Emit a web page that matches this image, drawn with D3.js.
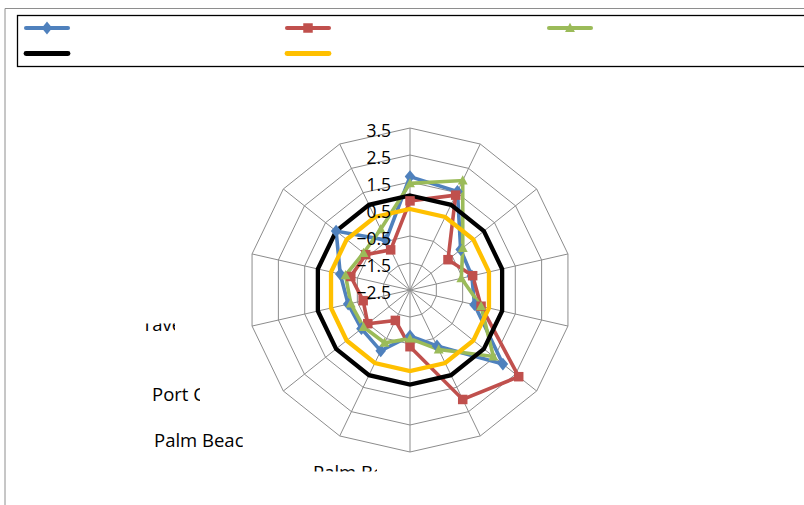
<!DOCTYPE html>
<html>
<head>
<meta charset="utf-8">
<script src="https://cdn.jsdelivr.net/npm/d3@7/dist/d3.min.js"></script>
<style>
  html, body { margin: 0; padding: 0; background: #fff; }
  svg { display: block; }
  text { font-family: "Open Sans", "Liberation Sans", sans-serif; fill: #000; }
</style>
</head>
<body>
<svg id="chart" width="804" height="505"></svg>
<script>
// 14 stations around the radar, clockwise from the top
const categories = d3.range(1, 15).map(String);

// radial axis tick labels
const tickValues = [-2.5, -1.5, -0.5, 0.5, 1.5, 2.5, 3.5];

// series values per station
const seriesBlue   = [1.7, 1.55, -0.1, -0.15, -0.05, 1.9, -0.2, -0.8, 0.0, -0.2, -0.15, 0.15, 1.0, -0.45];
const seriesRed    = [0.8, 1.4, -0.7, -0.12, 0.2, 2.65, 2.0, -0.4, -1.25, -0.5, -0.72, -0.25, -0.4, -0.85];
const seriesGreen  = [1.45, 2.0, 0.0, -0.55, 0.2, 1.45, -0.05, -0.7, -0.33, -0.3, -0.25, -0.05, -0.3, 0.0];
const seriesBlack  = [1, 1, 1, 1, 1, 1, 1, 1, 1, 1, 1, 1, 1, 1];
const seriesYellow = [0.5, 0.5, 0.5, 0.5, 0.5, 0.5, 0.5, 0.5, 0.5, 0.5, 0.5, 0.5, 0.5, 0.5];

// station names printed beside the plot (clipped text boxes)
const sideLabels = ["Tavernier", "Port Charlotte", "Palm Beach", "Palm Beach"];

const series = [
  { values: seriesBlue,   color: "#4F81BD", marker: "diamond",  width: 3.6 },
  { values: seriesRed,    color: "#C0504D", marker: "square",   width: 3.6 },
  { values: seriesGreen,  color: "#9BBB59", marker: "triangle", width: 3.6 },
  { values: seriesBlack,  color: "#000000", marker: null,       width: 4.3 },
  { values: seriesYellow, color: "#FFC000", marker: null,       width: 4.3 }
];

const svg = d3.select("#chart");
const cx = 410, cy = 290, R = 162;

const r = d3.scaleLinear().domain([-2.5, 3.5]).range([0, R]);
const angle = d3.scaleLinear().domain([0, categories.length]).range([0, 2 * Math.PI]);

// chart area frame
svg.append("path")
  .attr("d", "M5,505 V8.5 H804")
  .attr("fill", "none").attr("stroke", "#8e8e8e").attr("stroke-width", 1);

// legend box
svg.append("rect")
  .attr("x", 17.5).attr("y", 15.5).attr("width", 800).attr("height", 51)
  .attr("fill", "#fff").attr("stroke", "#000").attr("stroke-width", 1.3);

function markerPath(type, s) {
  if (type === "diamond") return `M0,${-s * 0.58} L${s * 0.48},0 L0,${s * 0.58} L${-s * 0.48},0 Z`;
  if (type === "square") return `M${-s / 2},${-s / 2} h${s} v${s} h${-s} Z`;
  if (type === "triangle") return `M0,${-s * 0.55} L${s * 0.52},${s * 0.42} L${-s * 0.52},${s * 0.42} Z`;
  return "";
}
const markerSize = { diamond: 11, square: 9.5, triangle: 9.5 };

const legendPos = [[26, 28], [287, 28], [549, 28], [26, 53.5], [287, 53.5]];
series.forEach((s, i) => {
  const [lx, ly] = legendPos[i];
  const g = svg.append("g").attr("transform", `translate(${lx},${ly})`);
  g.append("line").attr("x1", 0).attr("x2", 42).attr("y1", 0).attr("y2", 0)
    .attr("stroke", s.color).attr("stroke-width", s.width + 0.5).attr("stroke-linecap", "round");
  if (s.marker) {
    g.append("path").attr("transform", "translate(21,0)")
      .attr("d", markerPath(s.marker, markerSize[s.marker]))
      .attr("fill", s.color);
  }
});

const plot = svg.append("g").attr("transform", `translate(${cx},${cy})`);

// grid rings
const ringLine = d3.lineRadial().angle((d, i) => angle(i)).radius(d => r(d)).curve(d3.curveLinearClosed);
tickValues.slice(1).forEach(v => {
  plot.append("path")
    .attr("d", ringLine(categories.map(() => v)))
    .attr("fill", "none").attr("stroke", "#8c8c8c").attr("stroke-width", 1);
});

// spokes
categories.forEach((c, i) => {
  const a = angle(i);
  plot.append("line")
    .attr("x1", 0).attr("y1", 0)
    .attr("x2", R * Math.sin(a)).attr("y2", -R * Math.cos(a))
    .attr("stroke", "#8c8c8c").attr("stroke-width", 1);
});

// series lines
const seriesLine = d3.lineRadial().angle((d, i) => angle(i)).radius(d => r(d)).curve(d3.curveLinearClosed);
series.forEach(s => {
  plot.append("path")
    .attr("d", seriesLine(s.values))
    .attr("fill", "none").attr("stroke", s.color)
    .attr("stroke-width", s.width).attr("stroke-linejoin", "miter");
});

// markers
series.filter(s => s.marker).forEach(s => {
  plot.selectAll(null).data(s.values).enter().append("path")
    .attr("transform", (d, i) => {
      const a = angle(i);
      return `translate(${r(d) * Math.sin(a)},${-r(d) * Math.cos(a)})`;
    })
    .attr("d", markerPath(s.marker, markerSize[s.marker]))
    .attr("fill", s.color);
});

// radial axis labels
plot.selectAll("text.tick").data(tickValues).enter().append("text")
  .attr("class", "tick")
  .attr("x", -19).attr("y", d => -r(d) + 1.5)
  .attr("text-anchor", "end").attr("dominant-baseline", "central")
  .style("font-size", "17.5px")
  .text(d => d3.format(".1f")(d));

// clipped station names on the left
const defs = svg.append("defs");
const boxes = [
  { x: 142, y: 331, clip: [130, 323.5, 45, 20] },
  { x: 152, y: 401, clip: [140, 380, 60, 30] },
  { x: 154, y: 447, clip: [140, 425, 103, 30] },
  { x: 313, y: 479, clip: [300, 455, 77, 16.5] }
];
sideLabels.forEach((t, i) => {
  const b = boxes[i];
  defs.append("clipPath").attr("id", "clip" + i)
    .append("rect").attr("x", b.clip[0]).attr("y", b.clip[1])
    .attr("width", b.clip[2]).attr("height", b.clip[3]);
  svg.append("text")
    .attr("x", b.x).attr("y", b.y)
    .attr("clip-path", `url(#clip${i})`)
    .style("font-size", "18.5px")
    .text(t);
});
</script>
</body>
</html>
